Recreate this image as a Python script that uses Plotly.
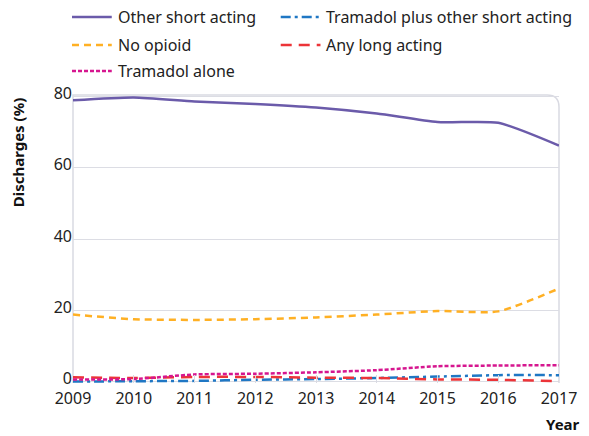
import plotly.graph_objects as go

years = [2009, 2010, 2011, 2012, 2013, 2014, 2015, 2016, 2017]
other_short = [78.9, 79.7, 78.6, 77.9, 76.9, 75.2, 72.8, 72.6, 66.2]
no_opioid = [18.8, 17.5, 17.3, 17.5, 18.0, 18.8, 19.8, 19.7, 26.1]
tramadol_alone = [0.6, 0.7, 2.0, 2.2, 2.6, 3.2, 4.3, 4.5, 4.6]
tramadol_plus = [0.0, 0.1, 0.2, 0.5, 0.7, 1.0, 1.4, 1.8, 1.8]
long_acting = [1.2, 1.0, 1.3, 1.3, 1.1, 1.0, 0.6, 0.5, 0.1]

series = [
    ("Other short acting", other_short, "#6B5BAA", "solid", 2.5),
    ("Tramadol plus other short acting", tramadol_plus, "#1F77C4", "10px,4px,3px,4px", 2.5),
    ("No opioid", no_opioid, "#FFB024", "7px,5px", 2.5),
    ("Any long acting", long_acting, "#EC3438", "11px,7px", 2.5),
    ("Tramadol alone", tramadol_alone, "#D6168F", "4px,2px", 2.5),
]

FONT = "Noto Sans"
fig = go.Figure()
for name, vals, col, dash, w in series:
    fig.add_trace(go.Scatter(
        x=years, y=vals, mode="lines", name=name, showlegend=False,
        line=dict(color=col, dash=dash, width=w, shape="spline", smoothing=0.6),
    ))

legend_pos = [(0, 0), (1, 0), (0, 1), (1, 1), (0, 2)]
col_x = [72, 282]
row_y = [17, 45, 71]
W, H = 589, 436
ml, mr, mt, mb = 73, 27, 95, 53
pw, ph = W - ml - mr, H - mt - mb

def px_to_paper(x, y):
    return (x - ml) / pw, 1 - (y - mt) / ph

for (name, vals, col, dash, w), (c, r) in zip(series, legend_pos):
    x0 = col_x[c]
    y = row_y[r]
    xa, ya = px_to_paper(x0, y)
    xb, _ = px_to_paper(x0 + 40, y)
    xt, _ = px_to_paper(x0 + 44, y)
    fig.add_shape(type="line", xref="paper", yref="paper", x0=xa, x1=xb, y0=ya, y1=ya,
                  line=dict(color=col, dash=dash, width=2.5))
    fig.add_annotation(xref="paper", yref="paper", x=xt, y=ya, text=name, showarrow=False,
                       xanchor="left", yanchor="middle", font=dict(family=FONT, size=16, color="#222"))

rx, ry = 12 / pw, 12 / ph
fig.add_shape(type="path", xref="paper", yref="paper", layer="below",
              path=f"M 0,0 L 0,1 L {1-rx},1 Q 1,1 1,{1-ry} L 1,0",
              line=dict(color="#D9DAE2", width=1.5))

fig.add_annotation(xref="paper", yref="paper", x=(18 - ml) / pw, y=1 - (152 - mt) / ph,
                   text="<b>Discharges (%)</b>", textangle=-90, showarrow=False,
                   xanchor="center", yanchor="middle", font=dict(family=FONT, size=15, color="#111"))
fig.add_annotation(xref="paper", yref="paper", x=(585 - ml) / pw, y=1 - (424 - mt) / ph,
                   text="<b>Year</b>", showarrow=False,
                   xanchor="right", yanchor="middle", font=dict(family=FONT, size=15, color="#111"))

fig.update_layout(
    width=W, height=H, margin=dict(l=ml, r=mr, t=mt, b=mb),
    paper_bgcolor="white", plot_bgcolor="white",
    font=dict(family=FONT, size=16, color="#222"),
    xaxis=dict(range=[2009, 2017], tickvals=years, ticktext=[str(y) for y in years],
               showgrid=False, zeroline=False, showline=False,
               ticks="inside", ticklen=8, tickcolor="#D9DAE2", tickwidth=1,
               ticklabelstandoff=4,
               tickfont=dict(size=16, color="#222")),
    yaxis=dict(range=[-0.4, 80.4], tickvals=[0, 20, 40, 60, 80],
               showgrid=True, gridcolor="#DCDDE4", gridwidth=1, zeroline=False, showline=False,
               ticks="", ticklabelshift=-3, tickfont=dict(size=16, color="#222")),
)

fig.write_html("out.html", config={"displayModeBar": False},
               post_script="document.body.style.margin='0';document.body.style.overflow='hidden';")
